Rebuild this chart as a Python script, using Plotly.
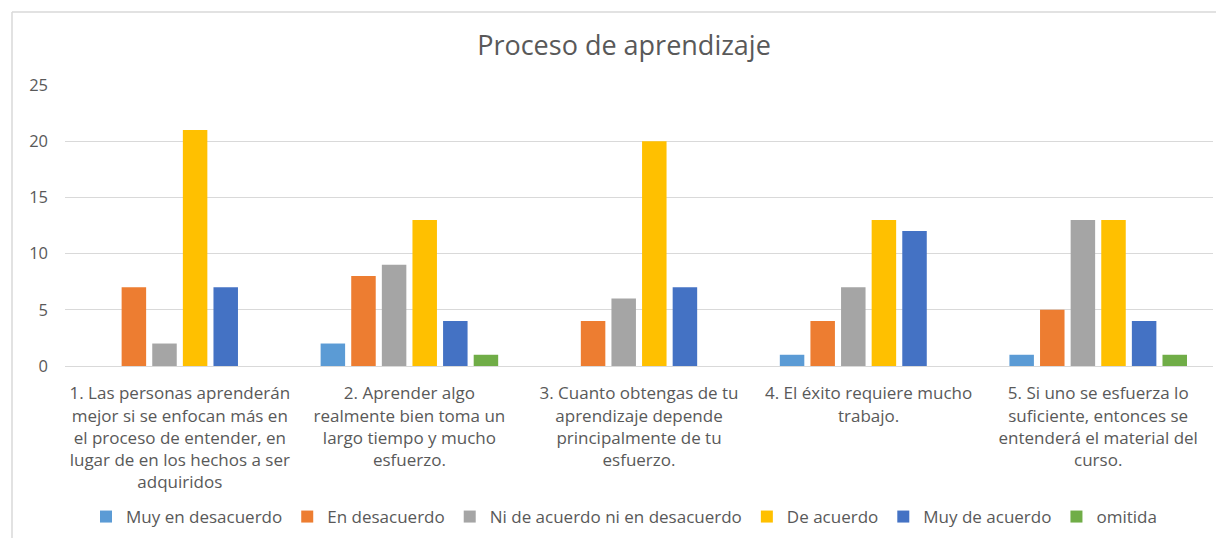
import plotly.graph_objects as go

categories = [
    "1. Las personas aprenderán<br>mejor si se enfocan más en<br>el proceso de entender, en<br>lugar de en los hechos a ser<br>adquiridos",
    "2. Aprender algo<br>realmente bien toma un<br>largo tiempo y mucho<br>esfuerzo.",
    "3. Cuanto obtengas de tu<br>aprendizaje depende<br>principalmente de tu<br>esfuerzo.",
    "4. El éxito requiere mucho<br>trabajo.",
    "5. Si uno se esfuerza lo<br>suficiente, entonces se<br>entenderá el material del<br>curso.",
]
series_names = ["Muy en desacuerdo", "En desacuerdo", "Ni de acuerdo ni en desacuerdo",
                "De acuerdo", "Muy de acuerdo", "omitida"]
muy_en_desacuerdo = [0, 2, 0, 1, 1]
en_desacuerdo = [7, 8, 4, 4, 5]
ni_ni = [2, 9, 6, 7, 13]
de_acuerdo = [21, 13, 20, 13, 13]
muy_de_acuerdo = [7, 4, 7, 12, 4]
omitida = [0, 1, 0, 0, 1]
series_values = [muy_en_desacuerdo, en_desacuerdo, ni_ni, de_acuerdo, muy_de_acuerdo, omitida]
colors = ["#5B9BD5", "#ED7D31", "#A5A5A5", "#FFC000", "#4472C4", "#70AD47"]
y_ticks = [0, 5, 10, 15, 20, 25]

font_family = "'Open Sans', sans-serif"
text_color = "#595959"

# page body has an 8px default margin
OFF = 8
W, H = 1224 - OFF, 538 - OFF
L, R, T, B = 65 - OFF, 11, 85 - OFF, 172
pw, ph = W - L - R, H - T - B

fig = go.Figure()
x_idx = list(range(len(categories)))
for name, vals, col in zip(series_names, series_values, colors):
    fig.add_trace(go.Bar(x=x_idx, y=vals, name=name, marker_color=col,
                         marker_line_width=0))

fig.update_layout(
    width=W, height=H,
    paper_bgcolor="white", plot_bgcolor="white",
    margin=dict(l=L, r=R, t=T, b=B, autoexpand=False),
    barmode="group", bargap=0.2, bargroupgap=0.2,
    title=dict(text="Proceso de aprendizaje", x=(624 - OFF) / W, xanchor="center",
               y=1 - (46 - OFF) / H, yanchor="middle", yref="container",
               font=dict(family=font_family, size=27, color=text_color)),
    font=dict(family=font_family, color=text_color),
    legend=dict(orientation="h", x=(624 - 65) / pw, xanchor="center",
                y=-(517 - 366) / ph, yanchor="middle",
                font=dict(size=17, color=text_color), traceorder="normal",
                itemwidth=30),
    xaxis=dict(tickmode="array", tickvals=x_idx, ticktext=categories,
               tickfont=dict(size=17, color=text_color), showgrid=False,
               showline=True, linecolor="#D9D9D9", linewidth=1, ticks="",
               range=[-0.5, 4.5], tickangle=0, automargin=False,
               ticklabelstandoff=12),
    yaxis=dict(range=[0, 25], tickvals=y_ticks, showgrid=True, gridcolor="#D9D9D9",
               gridwidth=1, zeroline=False, showline=False, ticks="",
               tickfont=dict(size=16.5, color=text_color), ticklabelstandoff=16,
               automargin=False),
    shapes=[
        dict(type="line", xref="paper", yref="paper",
             x0=(12 - 65) / pw, x1=(W - L) / pw,
             y0=(366 - 12) / ph, y1=(366 - 12) / ph,
             line=dict(color="#D9D9D9", width=1.5)),
        dict(type="line", xref="paper", yref="paper",
             x0=(12 - 65) / pw, x1=(12 - 65) / pw,
             y0=-B / ph, y1=(366 - 12) / ph,
             line=dict(color="#D9D9D9", width=1.5)),
    ],
)

fig.write_html("out.html")
